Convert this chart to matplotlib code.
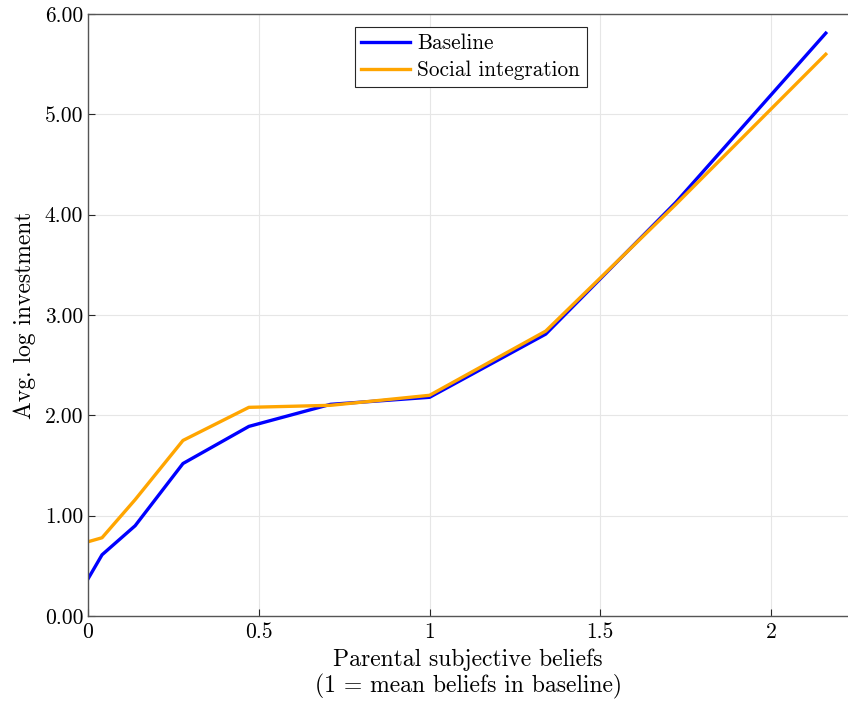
import matplotlib
matplotlib.use('Agg')
import matplotlib.pyplot as plt

plt.rcParams['font.family'] = 'serif'
plt.rcParams['font.serif'] = ['cmr10']
plt.rcParams['mathtext.fontset'] = 'cm'
plt.rcParams['axes.formatter.use_mathtext'] = True

# Parental beliefs (1 = mean beliefs in baseline)
beliefs = [0.0, 0.041, 0.138, 0.278, 0.471, 0.71, 1.0, 1.34, 1.72, 2.16]
# Average log investment
baseline = [0.37, 0.61, 0.90, 1.52, 1.89, 2.11, 2.18, 2.81, 4.12, 5.81]
social = [0.74, 0.78, 1.16, 1.75, 2.08, 2.10, 2.20, 2.84, 4.10, 5.60]

xticks = [0, 0.5, 1, 1.5, 2]
yticks = [0, 1, 2, 3, 4, 5, 6]

fig = plt.figure(figsize=(8.48, 7.04), dpi=100)
ax = fig.add_axes([0.1038, 0.125, 0.8962, 0.855])

ax.plot(beliefs, baseline, color='blue', lw=2.4, label='Baseline')
ax.plot(beliefs, social, color='orange', lw=2.4, label='Social integration')

ax.set_xlim(0, 2.225)
ax.set_ylim(0, 6)
ax.set_xticks(xticks)
ax.set_xticklabels(['0', '0.5', '1', '1.5', '2'])
ax.set_yticks(yticks)
ax.set_yticklabels(['%.2f' % v for v in yticks])
ax.grid(True, color='#e6e6e6', lw=0.8)
ax.set_axisbelow(True)
ax.tick_params(direction='in', length=5, width=0.8, colors='#262626',
               labelsize=15.5, labelcolor='black')
ax.tick_params(axis='x', pad=5)
for side in ['left', 'bottom', 'top']:
    ax.spines[side].set_color('#555555')
    ax.spines[side].set_linewidth(1.0)
ax.spines['right'].set_visible(False)

ax.set_xlabel('Parental subjective beliefs\n(1 = mean beliefs in baseline)',
              fontsize=17, labelpad=4, linespacing=1.2)
ax.set_ylabel('Avg. log investment', fontsize=17, labelpad=6)

leg = ax.legend(loc='upper left', bbox_to_anchor=(0.351, 0.978),
                borderaxespad=0, fancybox=False, framealpha=1,
                fontsize=15.3, handlelength=2.3, handletextpad=0.35,
                borderpad=0.3, labelspacing=0.35)
leg.get_frame().set_edgecolor('#262626')
leg.get_frame().set_linewidth(0.8)

fig.savefig('out.png', dpi=100)
